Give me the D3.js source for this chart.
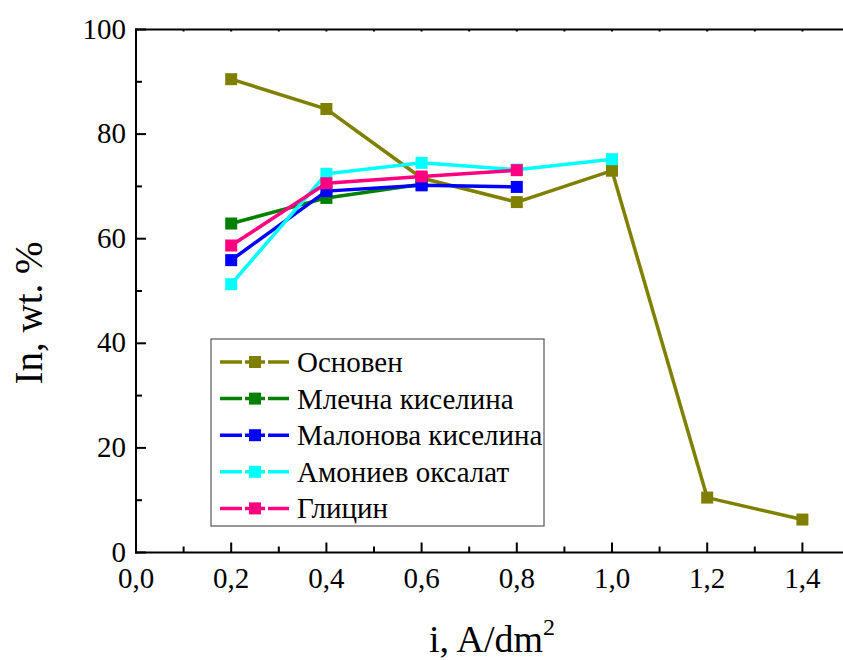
<!DOCTYPE html>
<html>
<head>
<meta charset="utf-8">
<script src="https://cdn.jsdelivr.net/npm/d3@7"></script>
<style>
  body { margin: 0; background: #fff; }
  svg { font-family: "Liberation Serif", "Times New Roman", serif; }
</style>
</head>
<body>
<svg id="chart" width="843" height="660"></svg>
<script>
// data
var seriesNames = ["Основен", "Млечна киселина", "Малонова киселина", "Амониев оксалат", "Глицин"]
var seriesColors = ["#808000", "#008000", "#0000ff", "#00ffff", "#ff0080"]
var osnovenX = [0.2, 0.4, 0.6, 0.8, 1.0, 1.2, 1.4]
var osnovenY = [90.5, 84.8, 71.6, 67.0, 73.0, 10.5, 6.3]
var mlechnaX = [0.2, 0.4, 0.6]
var mlechnaY = [62.9, 67.8, 70.4]
var malonovaX = [0.2, 0.4, 0.6, 0.8]
var malonovaY = [55.9, 69.1, 70.2, 69.9]
var amonievX = [0.2, 0.4, 0.6, 0.8, 1.0]
var amonievY = [51.3, 72.4, 74.5, 73.2, 75.2]
var glicinX = [0.2, 0.4, 0.6, 0.8]
var glicinY = [58.7, 70.6, 71.9, 73.1]
var xTicks = [0, 0.2, 0.4, 0.6, 0.8, 1.0, 1.2, 1.4]
var yTicks = [0, 20, 40, 60, 80, 100]

var allX = [osnovenX, mlechnaX, malonovaX, amonievX, glicinX]
var allY = [osnovenY, mlechnaY, malonovaY, amonievY, glicinY]
var series = seriesNames.map(function(name, i){
    return {
        name: name,
        color: seriesColors[i],
        values: allX[i].map(function(x, j){ return {x: x, y: allY[i][j]} })
    }
})

var svg = d3.select("#chart")

var x = d3.scaleLinear().domain([0, 1.5]).range([136, 850])
var y = d3.scaleLinear().domain([0, 100]).range([552.5, 29.5])

var fmt = function(d){ return d3.format(".1f")(d).replace(".", ",") }

// axes frame
var axes = svg.append("g")

// bottom axis
var bottomAxis = axes.append("g").attr("transform", "translate(0," + y(0) + ")")
bottomAxis.append("line").attr("x1", x(0) - 1).attr("x2", 843).attr("stroke", "#000").attr("stroke-width", 2)
bottomAxis.selectAll(".minor").data(d3.range(0.1, 1.5, 0.2)).enter().append("line")
    .attr("x1", function(d){ return x(d) }).attr("x2", function(d){ return x(d) })
    .attr("y1", 0).attr("y2", -6).attr("stroke", "#000").attr("stroke-width", 2)
bottomAxis.selectAll(".major").data(xTicks).enter().append("line")
    .attr("x1", function(d){ return x(d) }).attr("x2", function(d){ return x(d) })
    .attr("y1", 0).attr("y2", -10).attr("stroke", "#000").attr("stroke-width", 2)
bottomAxis.selectAll("text").data(xTicks).enter().append("text")
    .attr("x", function(d){ return x(d) }).attr("y", 35)
    .attr("text-anchor", "middle").attr("font-size", 29)
    .text(fmt)

// top axis
var topAxis = axes.append("g").attr("transform", "translate(0," + y(100) + ")")
topAxis.append("line").attr("x1", x(0) - 1).attr("x2", 843).attr("stroke", "#000").attr("stroke-width", 2)
topAxis.selectAll(".t").data(d3.range(0.1, 1.5, 0.1)).enter().append("line")
    .attr("x1", function(d){ return x(d) }).attr("x2", function(d){ return x(d) })
    .attr("y1", 0).attr("y2", 2).attr("stroke", "#000").attr("stroke-width", 2)

// left axis
var leftAxis = axes.append("g").attr("transform", "translate(" + x(0) + ",0)")
leftAxis.append("line").attr("y1", y(0) + 1).attr("y2", y(100) - 1).attr("stroke", "#000").attr("stroke-width", 2)
leftAxis.selectAll(".minor").data(d3.range(10, 100, 20)).enter().append("line")
    .attr("y1", function(d){ return y(d) }).attr("y2", function(d){ return y(d) })
    .attr("x1", 0).attr("x2", 6).attr("stroke", "#000").attr("stroke-width", 2)
leftAxis.selectAll(".major").data(yTicks).enter().append("line")
    .attr("y1", function(d){ return y(d) }).attr("y2", function(d){ return y(d) })
    .attr("x1", 0).attr("x2", 10).attr("stroke", "#000").attr("stroke-width", 2)
leftAxis.selectAll("text").data(yTicks).enter().append("text")
    .attr("x", -10).attr("y", function(d){ return y(d) + 9 })
    .attr("text-anchor", "end").attr("font-size", 29)
    .text(function(d){ return d })

// axis titles
svg.append("text")
    .attr("transform", "translate(42,313) rotate(-90)")
    .attr("text-anchor", "middle").attr("font-size", 39)
    .text("In, wt. %")

var xt = svg.append("text")
    .attr("x", 492).attr("y", 652)
    .attr("text-anchor", "middle").attr("font-size", 38)
xt.append("tspan").text("i, A/dm")
xt.append("tspan").attr("dy", -17).attr("font-size", 24).text("2")

// series
var line = d3.line().x(function(d){ return x(d.x) }).y(function(d){ return y(d.y) })

var g = svg.selectAll(".series").data(series).enter().append("g")
g.append("path")
    .attr("d", function(d){ return line(d.values) })
    .attr("fill", "none")
    .attr("stroke", function(d){ return d.color })
    .attr("stroke-width", 3.5)
g.selectAll("rect").data(function(d){ return d.values.map(function(v){ return {x: v.x, y: v.y, color: d.color} }) })
    .enter().append("rect")
    .attr("x", function(d){ return x(d.x) - 6 })
    .attr("y", function(d){ return y(d.y) - 6 })
    .attr("width", 12).attr("height", 12)
    .attr("fill", function(d){ return d.color })

// legend
var legend = svg.append("g")
legend.append("rect")
    .attr("x", 211).attr("y", 339).attr("width", 333).attr("height", 187)
    .attr("fill", "#fff").attr("stroke", "#555").attr("stroke-width", 1.2)
var item = legend.selectAll(".item").data(series).enter().append("g")
    .attr("transform", function(d, i){ return "translate(0," + (362 + i * 36.6) + ")" })
item.append("line").attr("x1", 220).attr("x2", 289)
    .attr("stroke", function(d){ return d.color }).attr("stroke-width", 3.5)
item.append("rect").attr("x", 249).attr("y", -6).attr("width", 12).attr("height", 12)
    .attr("fill", function(d){ return d.color })
item.append("rect").attr("x", 242).attr("y", -3).attr("width", 3).attr("height", 6).attr("fill", "#fff")
item.append("rect").attr("x", 265).attr("y", -3).attr("width", 3).attr("height", 6).attr("fill", "#fff")
item.append("text").attr("x", 297).attr("y", 10).attr("font-size", 29)
    .text(function(d){ return d.name })
</script>
</body>
</html>
